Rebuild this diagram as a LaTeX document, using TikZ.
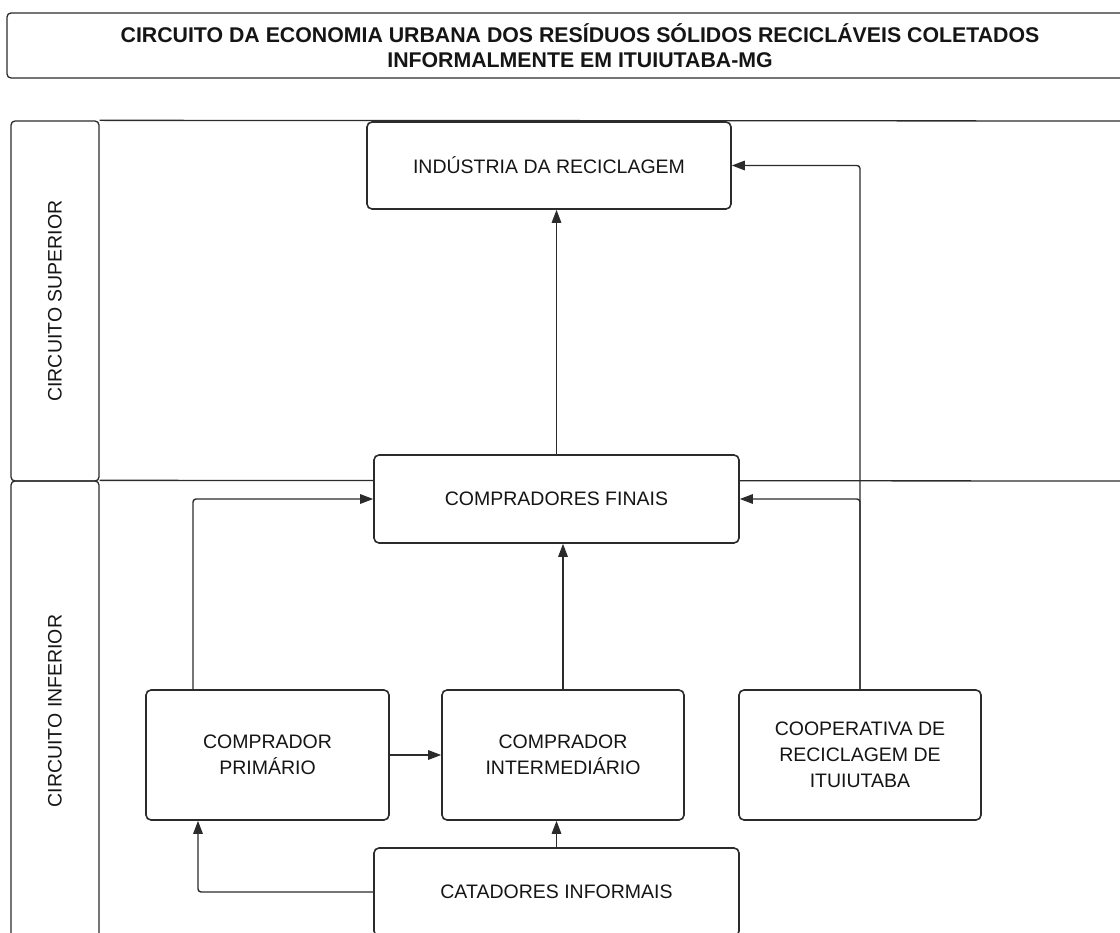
\documentclass[tikz,border=0pt]{standalone}
\usepackage{fontspec}
\setmainfont{Liberation Sans}
\usetikzlibrary{arrows.meta}
\definecolor{traco}{HTML}{2B2B2B}
\definecolor{texto}{HTML}{151515}

\tikzset{
  caixa/.style={draw=traco, line width=1.6pt, rounded corners=5pt, fill=white,
    align=center, text=texto, font=\fontsize{19.5}{26}\selectfont},
  raia/.style={draw=traco, line width=1.3pt, rounded corners=4pt,
    text=texto, font=\fontsize{19.5}{24}\selectfont},
  seta/.style={draw=traco, line width=1.4pt, rounded corners=3pt,
    -{Triangle[length=13pt,width=9.5pt]}}
}

\begin{document}
\begin{tikzpicture}[x=1pt, y=-1pt]

\useasboundingbox (0,0) rectangle (1120,933);
\clip (0,0) rectangle (1120,933);

\node[raia, align=center, minimum width=1146pt, minimum height=65pt,
  font=\bfseries\fontsize{21.3}{24.5}\selectfont] (titulo) at (580,45.5)
  {CIRCUITO DA ECONOMIA URBANA DOS RESÍDUOS SÓLIDOS RECICLÁVEIS COLETADOS\\
   INFORMALMENTE EM ITUIUTABA-MG};

\node[raia, rotate=90, minimum width=360pt, minimum height=88pt] (superior) at (55,301) {CIRCUITO SUPERIOR};
\node[raia, rotate=90, minimum width=460pt, minimum height=88pt] (inferior) at (55,711) {CIRCUITO INFERIOR};

\coordinate (limite_sup) at (1130,121);
\coordinate (limite_inf) at (1130,481);
\draw[traco, line width=1.3pt] (superior.south east) -- (limite_sup);
\draw[traco, line width=1.3pt] (inferior.south east) -- (limite_inf);

\node[caixa, minimum width=364pt, minimum height=87pt] (industria) at (549,165.5) {INDÚSTRIA DA RECICLAGEM};
\node[caixa, minimum width=365pt, minimum height=88pt] (finais) at (556.5,499) {COMPRADORES FINAIS};
\node[caixa, minimum width=243pt, minimum height=130pt] (primario) at (267.5,755) {COMPRADOR\\PRIMÁRIO};
\node[caixa, minimum width=242pt, minimum height=130pt] (intermed) at (563,755) {COMPRADOR\\INTERMEDIÁRIO};
\node[caixa, minimum width=242pt, minimum height=130pt] (coop) at (860,755) {COOPERATIVA DE\\RECICLAGEM DE\\ITUIUTABA};
\node[caixa, minimum width=365pt, minimum height=88pt] (catadores) at (556.5,892) {CATADORES INFORMAIS};

\draw[seta] (finais.north) -- (finais.north |- industria.south);
\draw[seta] ([xshift=-74.5pt]primario.north) |- (finais.west);
\draw[seta] (intermed.north) -- (intermed.north |- finais.south);
\draw[seta] (primario.east) -- (intermed.west);
\draw[seta] (catadores.west) -| ([xshift=-69.5pt]primario.south);
\draw[seta] (catadores.north) -- (catadores.north |- intermed.south);
\draw[seta] (coop.north) |- (industria.east);
\draw[seta] (coop.north) |- (finais.east);

\end{tikzpicture}
\end{document}
